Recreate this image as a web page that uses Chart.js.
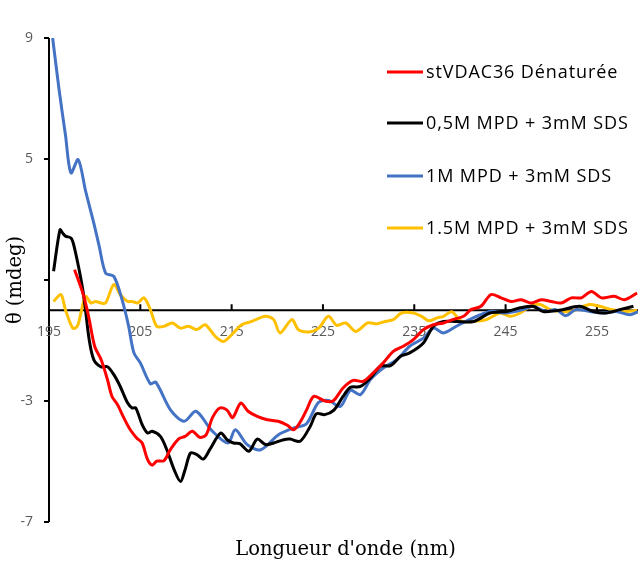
<!DOCTYPE html>
<html>
<head>
<meta charset="utf-8">
<script src="https://cdn.jsdelivr.net/npm/chart.js@4.4.1/dist/chart.umd.min.js"></script>
<style>
  html, body { margin: 0; padding: 0; background: #ffffff; }
  #wrap { width: 638px; height: 564px; position: relative; }
</style>
</head>
<body>
<div id="wrap"><canvas id="cd"></canvas></div>
<script>
// Circular dichroism spectra, wavelength (nm) vs ellipticity (mdeg)
const seriesLabels = [
  'stVDAC36 Dénaturée',
  '0,5M MPD + 3mM SDS',
  '1M MPD + 3mM SDS',
  '1.5M MPD + 3mM SDS'
];
const seriesColors = ['#FF0000', '#000000', '#4472C4', '#FFC000'];

const xTickValues = [195, 205, 215, 225, 235, 245, 255];
const yTickValues = [-7, -3, 1, 5, 9];
const yTickLabels = ['-7', '-3', '', '5', '9'];

const redNm = [197.8, 198.7, 199.3, 200.0, 200.7, 201.4, 201.9, 202.5, 203.2, 203.9, 204.6, 205.2, 205.8, 206.3, 206.8, 207.6, 208.3, 209.2, 209.9, 210.7, 211.5, 212.2, 212.9, 213.7, 214.5, 215.1, 216.0, 216.8, 217.8, 218.9, 220.1, 221.1, 221.8, 222.5, 223.2, 224.0, 225.2, 226.1, 227.2, 228.3, 229.4, 230.5, 231.6, 232.7, 233.8, 234.9, 236.0, 237.1, 238.2, 239.3, 240.4, 241.2, 242.3, 243.4, 244.5, 245.6, 246.7, 247.8, 248.9, 250.0, 251.1, 252.2, 253.3, 254.4, 255.5, 256.9, 258.0, 259.4];
const redMdeg = [1.34, 0.57, -0.15, -1.19, -1.63, -2.29, -2.85, -3.12, -3.56, -3.95, -4.22, -4.39, -4.94, -5.12, -4.99, -4.97, -4.6, -4.25, -4.17, -4.0, -4.2, -4.12, -3.55, -3.23, -3.3, -3.55, -3.07, -3.34, -3.51, -3.62, -3.67, -3.8, -3.95, -3.7, -3.3, -2.85, -3.0, -3.0, -2.57, -2.32, -2.35, -2.07, -1.74, -1.36, -1.19, -0.97, -0.64, -0.48, -0.42, -0.3, -0.2, 0.02, 0.13, 0.52, 0.41, 0.29, 0.35, 0.24, 0.35, 0.29, 0.24, 0.41, 0.41, 0.62, 0.41, 0.46, 0.35, 0.57];

const blackNm = [195.5, 196.2, 196.5, 196.8, 197.4, 197.7, 198.3, 198.7, 199.0, 199.4, 199.9, 200.7, 201.4, 202.1, 202.8, 203.6, 204.1, 204.5, 205.2, 205.8, 206.3, 207.2, 207.9, 208.7, 209.4, 209.9, 210.5, 211.2, 211.9, 212.6, 213.8, 214.5, 215.2, 215.9, 216.9, 217.8, 218.7, 219.6, 220.7, 221.4, 222.5, 223.6, 224.3, 225.2, 226.2, 227.2, 228.0, 229.1, 230.2, 231.3, 232.4, 233.5, 234.5, 236.0, 237.1, 238.2, 239.6, 241.5, 243.3, 245.1, 246.6, 248.0, 249.1, 250.9, 253.1, 254.6, 256.0, 257.5, 259.0];
const blackMdeg = [1.29, 2.66, 2.55, 2.45, 2.39, 2.17, 1.34, 0.68, 0.0, -0.97, -1.63, -1.87, -1.87, -2.13, -2.52, -3.06, -3.23, -3.23, -3.78, -4.06, -4.0, -4.17, -4.61, -5.27, -5.66, -5.27, -4.72, -4.77, -4.92, -4.61, -4.06, -4.28, -4.39, -4.41, -4.66, -4.26, -4.44, -4.39, -4.28, -4.26, -4.33, -3.84, -3.42, -3.45, -3.3, -2.85, -2.55, -2.52, -2.24, -1.85, -1.83, -1.52, -1.41, -1.08, -0.53, -0.37, -0.37, -0.37, -0.09, -0.04, 0.08, 0.13, -0.04, 0.0, 0.13, -0.04, -0.09, 0.02, 0.13];

const blueNm = [195.4, 196.1, 196.8, 197.4, 198.2, 199.0, 199.9, 200.5, 201.2, 202.1, 203.0, 203.7, 204.3, 205.0, 206.1, 206.7, 208.3, 209.8, 211.1, 212.8, 214.6, 215.4, 216.7, 218.2, 220.1, 221.8, 223.2, 224.5, 225.6, 226.9, 228.0, 229.1, 230.2, 231.6, 233.1, 234.5, 236.0, 237.1, 238.2, 239.6, 241.1, 243.3, 245.1, 246.9, 248.0, 249.4, 250.5, 251.6, 252.7, 254.2, 255.7, 257.1, 258.6, 259.5];
const blueMdeg = [9.0, 7.3, 5.8, 4.54, 4.98, 3.95, 2.89, 2.11, 1.23, 1.12, 0.35, -0.5, -1.41, -1.74, -2.43, -2.38, -3.29, -3.67, -3.34, -3.97, -4.39, -3.95, -4.44, -4.61, -4.12, -3.89, -3.75, -3.05, -2.98, -3.18, -2.65, -2.79, -2.29, -1.91, -1.63, -1.19, -0.92, -0.59, -0.75, -0.53, -0.3, -0.04, -0.09, 0.02, 0.13, -0.04, 0.02, -0.18, 0.02, -0.04, -0.09, -0.04, -0.15, -0.05];

const yellowNm = [195.5, 196.3, 196.8, 197.6, 198.1, 198.5, 199.0, 199.6, 200.1, 200.7, 201.2, 202.1, 202.8, 203.6, 204.1, 204.7, 205.4, 206.1, 206.8, 207.6, 208.5, 209.4, 210.3, 211.2, 212.1, 213.2, 214.1, 215.0, 216.1, 217.2, 218.7, 219.6, 220.3, 221.6, 222.3, 223.4, 224.5, 225.6, 226.5, 227.5, 228.6, 229.9, 230.9, 231.8, 232.7, 233.6, 234.8, 235.8, 236.6, 237.5, 238.2, 239.1, 240.1, 241.5, 242.9, 244.4, 245.5, 246.6, 247.7, 248.8, 249.9, 251.0, 252.2, 253.1, 254.2, 255.3, 256.7, 258.2, 259.4];
const yellowMdeg = [0.29, 0.52, 0.02, -0.59, -0.53, -0.09, 0.46, 0.24, 0.29, 0.24, 0.24, 0.85, 0.52, 0.29, 0.29, 0.24, 0.41, 0.02, -0.53, -0.53, -0.42, -0.59, -0.53, -0.64, -0.48, -0.86, -1.03, -0.81, -0.48, -0.37, -0.2, -0.31, -0.75, -0.31, -0.64, -0.72, -0.6, -0.2, -0.5, -0.42, -0.7, -0.42, -0.45, -0.37, -0.31, -0.09, -0.08, -0.2, -0.35, -0.25, -0.2, -0.05, -0.35, -0.37, -0.31, -0.09, -0.2, -0.09, 0.13, 0.19, 0.02, -0.04, -0.04, 0.08, 0.19, 0.13, 0.02, -0.04, 0.0];

const toPoints = (xs, ys) => xs.map((x, i) => ({ x: x, y: ys[i] }));
const seriesData = [
  toPoints(redNm, redMdeg),
  toPoints(blackNm, blackMdeg),
  toPoints(blueNm, blueMdeg),
  toPoints(yellowNm, yellowMdeg)
];

const tickFont = '14px "Open Sans"';
const tickColor = '#595959';
const legendFont = '18px "Open Sans"';
const titleFont = '19.5px "DejaVu Serif"';

// Excel-style axes: y axis on the left edge, x axis crossing at zero,
// tick labels sitting just below the zero line.
const axesPlugin = {
  id: 'excelAxes',
  beforeDatasetsDraw(chart) {
    const { ctx, chartArea, scales } = chart;
    const xs = scales.x, ys = scales.y;
    const y0 = ys.getPixelForValue(0);
    ctx.save();
    ctx.strokeStyle = '#000000';
    ctx.lineWidth = 2;
    // y axis line and ticks
    ctx.beginPath();
    ctx.moveTo(chartArea.left, chartArea.top);
    ctx.lineTo(chartArea.left, chartArea.bottom);
    yTickValues.forEach(v => {
      const p = Math.round(ys.getPixelForValue(v));
      ctx.moveTo(chartArea.left - 5, p);
      ctx.lineTo(chartArea.left, p);
    });
    // x axis line at zero and upward ticks
    ctx.moveTo(chartArea.left, y0);
    ctx.lineTo(chart.width, y0);
    xTickValues.forEach(v => {
      const p = xs.getPixelForValue(v);
      ctx.moveTo(p, y0 - 6);
      ctx.lineTo(p, y0);
    });
    ctx.stroke();

    ctx.fillStyle = tickColor;
    ctx.font = tickFont;
    ctx.textBaseline = 'middle';
    ctx.textAlign = 'right';
    yTickValues.forEach((v, i) => {
      ctx.fillText(yTickLabels[i], chartArea.left - 16, ys.getPixelForValue(v));
    });
    ctx.textAlign = 'center';
    xTickValues.forEach(v => {
      ctx.fillText(String(v), xs.getPixelForValue(v), y0 + 22);
    });

    // axis titles
    ctx.fillStyle = '#000000';
    ctx.font = titleFont;
    ctx.textAlign = 'center';
    ctx.fillText("Longueur d'onde (nm)", (chartArea.left + chartArea.right) / 2 + 2, 550);
    ctx.save();
    ctx.translate(16, 280);
    ctx.rotate(-Math.PI / 2);
    ctx.fillText('θ (mdeg)', 0, 0);
    ctx.restore();
    ctx.restore();
  },
  afterDatasetsDraw(chart) {
    // legend in the upper right of the plot
    const { ctx } = chart;
    const rowsY = [72, 123, 176, 228];
    ctx.save();
    ctx.font = legendFont;
    ctx.letterSpacing = '0.9px';
    ctx.textAlign = 'left';
    ctx.textBaseline = 'middle';
    chart.data.datasets.forEach((ds, i) => {
      ctx.strokeStyle = ds.borderColor;
      ctx.lineWidth = 3;
      ctx.beginPath();
      ctx.moveTo(387, rowsY[i]);
      ctx.lineTo(423, rowsY[i]);
      ctx.stroke();
      ctx.fillStyle = '#000000';
      ctx.fillText(ds.label, 426, rowsY[i] + 1);
    });
    ctx.restore();
  }
};

new Chart(document.getElementById('cd'), {
  type: 'line',
  data: {
    datasets: seriesLabels.map((label, i) => ({
      label: label,
      data: seriesData[i],
      borderColor: seriesColors[i],
      backgroundColor: seriesColors[i],
      borderWidth: 3,
      pointRadius: 0,
      tension: 0.3,
      fill: false
    }))
  },
  options: {
    responsive: true,
    maintainAspectRatio: false,
    animation: false,
    layout: { padding: { left: 49, right: 0, top: 38, bottom: 42 } },
    scales: {
      x: { type: 'linear', display: false, min: 195, max: 259.5 },
      y: { type: 'linear', display: false, min: -7, max: 9 }
    },
    plugins: {
      legend: { display: false },
      tooltip: { enabled: false }
    }
  },
  plugins: [axesPlugin]
});
</script>
</body>
</html>
